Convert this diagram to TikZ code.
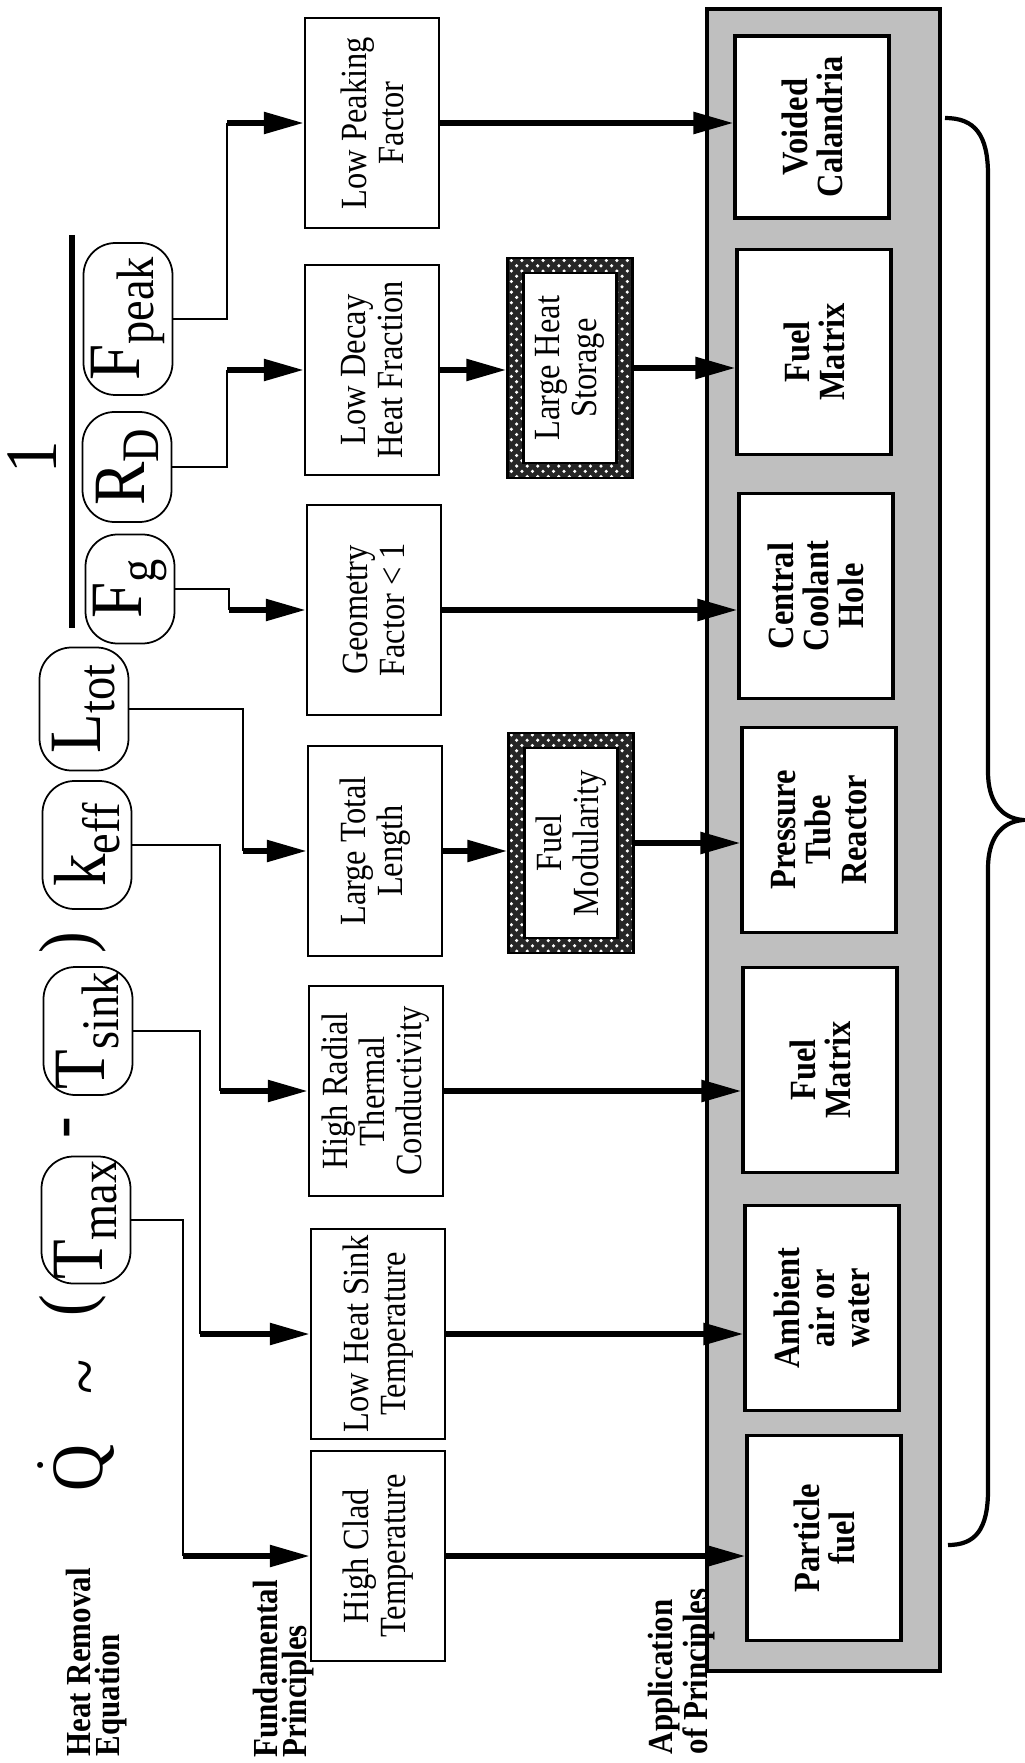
\documentclass[tikz,border=0pt]{standalone}
\usepackage{fontspec}
\setmainfont{Liberation Serif}[FakeStretch=0.88]
\usetikzlibrary{arrows.meta,patterns}

\newcommand{\eqsub}[1]{\raisebox{-4pt}{\fontsize{15}{15}\selectfont #1}}

\begin{document}
\begin{tikzpicture}[
  x=0.1mm, y=-0.1mm,
  >={Triangle[length=4mm,width=2.1mm]},
  prin/.style={rectangle, draw=black, line width=0.7pt, rotate=90, align=center, minimum width=21mm, minimum height=13.4mm, inner sep=1pt, font=\fontsize{10.5}{10.5}\selectfont},
  appl/.style={rectangle, draw=black, line width=0.9pt, fill=white, rotate=90, align=center, minimum width=20.5mm, minimum height=15.4mm, inner sep=1pt, font=\bfseries\fontsize{10.5}{10}\selectfont},
  hatch/.style={rectangle, draw=black, line width=0.7pt, rotate=90, minimum width=22mm, minimum height=12.5mm, inner sep=0pt, preaction={fill=black!85}, pattern=crosshatch dots, pattern color=white},
  inbox/.style={rectangle, draw=black, line width=0.7pt, fill=white, rotate=90, align=center, minimum width=19mm, minimum height=9.3mm, inner sep=1pt, font=\fontsize{10.5}{10.5}\selectfont},
  term/.style={rectangle, rounded corners=3.2mm, draw=black, line width=0.5pt, rotate=90, inner sep=0.5pt, minimum height=8.9mm, font=\fontsize{21}{21}\selectfont},
  sym/.style={rotate=90, inner sep=0pt, font=\fontsize{21}{21}\selectfont},
  lbl/.style={rotate=90, anchor=north west, align=left, inner sep=0pt, font=\bfseries\fontsize{10}{8.5}\selectfont},
  panel/.style={draw=black, line width=1pt, fill=black!25},
  wire/.style={line width=0.45pt},
  fat/.style={line width=1.6pt, ->},
  brace/.style={line width=1.2pt}
]
\useasboundingbox (0,0) rectangle (1025,1763);

\draw[panel] (707,9) rectangle (940,1671);

\node[sym] (qdot) at (76,1465) {$\dot{\mathrm{Q}}$};
\node[sym] (tilde) at (94,1377) {\textasciitilde};
\node[sym] (lpar) at (73,1306) {(};
\node[term, minimum width=12.7mm] (tmax) at (86,1220) {T\eqsub{max}};
\node[sym] (minus) at (74,1128) {-};
\node[term, minimum width=12.8mm] (tsink) at (88,1031) {T\eqsub{sink}};
\node[sym] (rpar) at (73,943) {)};
\node[term, minimum width=12.8mm] (keff) at (87,845) {k\eqsub{eff}};
\node[term, minimum width=12.3mm] (ltot) at (84,709) {L\eqsub{tot}};
\node[sym] (one) at (32,457) {1};
\draw[line width=1.6pt] (72,235) -- (72,628);
\node[term, minimum width=15.2mm] (fpeak) at (128,319) {F\eqsub{peak}};
\node[term, minimum width=11mm] (rd) at (127,467) {R\eqsub{D}};
\node[term, minimum width=10.9mm] (fg) at (130,589) {F\eqsub{g}};

\node[prin] (lpf) at (372,123) {Low Peaking\\Factor};
\node[prin] (ldhf) at (372,370) {Low Decay\\Heat Fraction};
\node[prin] (geo) at (374,610) {Geometry\\Factor < 1};
\node[prin] (ltl) at (375,851) {Large Total\\Length};
\node[prin] (hrtc) at (376,1091) {High Radial\\Thermal\\Conductivity};
\node[prin] (lhst) at (378,1334) {Low Heat Sink\\Temperature};
\node[prin] (hct) at (378,1556) {High Clad\\Temperature};

\node[hatch] (lhs) at (570,368) {};
\node[inbox] (lhsin) at (lhs) {Large Heat\\Storage};
\node[hatch] (fmod) at (571,843) {};
\node[inbox] (fmodin) at (fmod) {Fuel\\Modularity};

\node[appl, minimum width=18.2mm] (vc) at (812,127) {Voided\\Calandria};
\node[appl] (fm1) at (814,352) {Fuel\\Matrix};
\node[appl] (cch) at (816,596) {Central\\Coolant\\Hole};
\node[appl] (ptr) at (819,830) {Pressure\\Tube\\Reactor};
\node[appl] (fm2) at (820,1070) {Fuel\\Matrix};
\node[appl] (amb) at (822,1308) {Ambient\\air or\\water};
\node[appl] (pf) at (824,1538) {Particle\\fuel};

\node[lbl] (eqlbl) at (65,1757) {Heat Removal\\Equation};
\node[lbl] (fplbl) at (252,1758) {Fundamental\\Principles};
\node[lbl] (aplbl) at (647,1755) {Application\\of Principles};

\coordinate (b1) at (183,1556);
\coordinate (b2) at (200,1334);
\coordinate (b3) at (220,1091);
\coordinate (b4) at (243,851);
\coordinate (b5) at (229,610);
\coordinate (b6) at (227,370);
\coordinate (b7) at (227,123);

\draw[wire] (tmax.south) -| (b1);
\draw[wire] (tsink.south) -| (b2);
\draw[wire] (keff.south) -| (b3);
\draw[wire] (ltot.south) -| (b4);
\draw[wire] (fg.south) -| (b5);
\draw[wire] (rd.south) -| (b6);
\draw[wire] (fpeak.south) -| (b7);
\draw[fat] (b1) -- (hct.north);
\draw[fat] (b2) -- (lhst.north);
\draw[fat] (b3) -- (hrtc.north);
\draw[fat] (b4) -- (ltl.north);
\draw[fat] (b5) -- (geo.north);
\draw[fat] (b6) -- (ldhf.north);
\draw[fat] (b7) -- (lpf.north);

\draw[fat] (lpf.south) -- (lpf.south -| vc.north);
\draw[fat] (ldhf.south) -- (ldhf.south -| lhs.north);
\draw[fat] (lhs.south) -- (lhs.south -| fm1.north);
\draw[fat] (geo.south) -- (geo.south -| cch.north);
\draw[fat] (ltl.south) -- (ltl.south -| fmod.north);
\draw[fat] (fmod.south) -- (fmod.south -| ptr.north);
\draw[fat] (hrtc.south) -- (hrtc.south -| fm2.north);
\draw[fat] (lhst.south) -- (lhst.south -| amb.north);
\draw[fat] (hct.south) -- (hct.south -| pf.north);

\draw[brace] (945,118) .. controls (975,118) and (988,135) .. (988,175) -- (988,772)
  .. controls (988,800) and (1000,818) .. (1023,820)
  .. controls (1000,822) and (988,840) .. (988,868) -- (988,1490)
  .. controls (988,1530) and (975,1545) .. (948,1545);
\end{tikzpicture}
\end{document}
